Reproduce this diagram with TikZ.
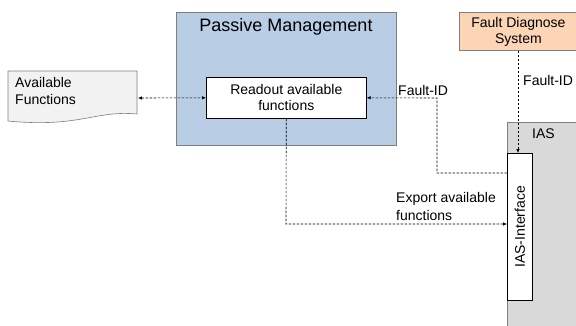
\documentclass[tikz,border=0pt]{standalone}
\usepackage{fontspec}
\setmainfont{Liberation Sans}
\usetikzlibrary{arrows.meta}
\definecolor{pmblue}{HTML}{B9CDE5}
\definecolor{fdspeach}{HTML}{FBD5B5}
\definecolor{iasgray}{HTML}{D9D9D9}
\definecolor{docgray}{HTML}{F2F2F2}
\definecolor{edge}{HTML}{7F7F7F}
\tikzset{
  box/.style={draw=black, line width=0.6pt, fill=white, align=center, font=\fontsize{14}{16}\selectfont},
  conn/.style={dashed, dash pattern=on 2.5pt off 1.5pt, line width=0.6pt, -{Latex[length=4pt,width=3.5pt]}},
  lbl/.style={font=\fontsize{14}{16}\selectfont, align=left, inner sep=0pt}
}
\begin{document}
\begin{tikzpicture}[x=1pt,y=-1pt]
\useasboundingbox (0,0) rectangle (576,325);
% Passive management
\node[draw=edge, line width=0.8pt, fill=pmblue, minimum width=220pt, minimum height=133pt, anchor=north west] (pm) at (176,12) {};
\node[font=\fontsize{18}{20}\selectfont] (pmt) at (286,27) {Passive Management};
% Readout
\node[box, minimum width=160pt, minimum height=41pt, anchor=north west, inner sep=1pt] (ro) at (206,77) {Readout available\\functions};
% Document
\draw[draw=edge, line width=0.6pt, fill=docgray] (8,71) -- (137,71) -- (137,114)
  .. controls (95,110) and (80,128) .. (8,121) -- cycle;
\node[lbl, anchor=north west, font=\fontsize{14}{17}\selectfont] (doc) at (15,77) {Available\\Functions};
\coordinate (docr) at (138,98);
% FDS
\node[draw=edge, line width=0.8pt, fill=fdspeach, minimum width=118pt, minimum height=38pt, anchor=north west, align=center, font=\fontsize{14}{16}\selectfont, inner sep=1pt] (fds) at (459,12) {Fault Diagnose\\System};
% IAS
\fill[iasgray] (507,122) rectangle (577,326);
\draw[edge, line width=0.8pt] (507,326) -- (507,122) -- (577,122);
\node[lbl, anchor=west] (ias) at (532,134) {IAS};
\node[box, minimum width=25pt, minimum height=147pt, anchor=north west, inner sep=0pt] (iasi) at (507,153) {};
\node[rotate=90, font=\fontsize{14}{16}\selectfont] at (iasi.center) {IAS-Interface};
% connectors
\draw[conn, {Latex[length=4pt,width=3.5pt]}-{Latex[length=4pt,width=3.5pt]}] (docr) -- (ro.west);
\draw[conn] (fds.south -| 518,0) -- (518,153);
\node[lbl, anchor=west] at (523,80) {Fault-ID};
\draw[conn] (iasi.north west |- 0,173) -- (437,173) -- (437,98) -- (ro.east);
\node[lbl, anchor=west] at (398,90) {Fault-ID};
\draw[conn] (ro.south) -- (286,224) -- (iasi.west |- 0,224);
\node[lbl, anchor=west, font=\fontsize{14}{18}\selectfont] at (396,206) {Export available\\functions};
\end{tikzpicture}
\end{document}
